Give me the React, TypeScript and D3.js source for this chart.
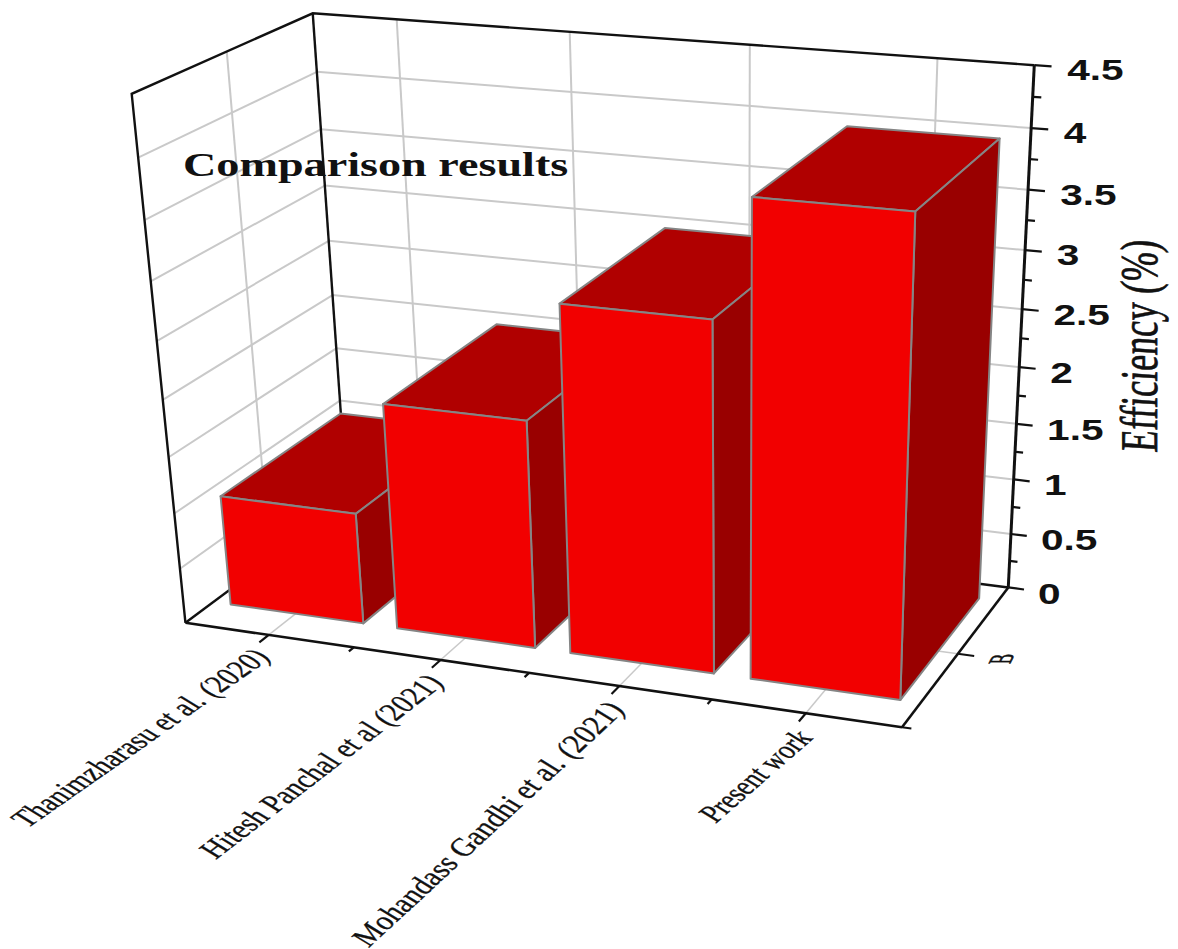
import React from "react";
import * as d3 from "d3";

// Efficiency comparison drawn as a 3D bar chart
const categories = [
  "Thanimzharasu et al. (2020)",
  "Hitesh Panchal et al (2021)",
  "Mohandass Gandhi et al. (2021)",
  "Present work",
];
const efficiency = [1.0, 2.0, 3.0, 3.98];
const yMajorTicks = [0, 0.5, 1, 1.5, 2, 2.5, 3, 3.5, 4, 4.5];
const yMinorTicks = [0.25, 0.75, 1.25, 1.75, 2.25, 2.75, 3.25, 3.75, 4.25];
const yTickLabels = ["0", "0.5", "1", "1.5", "2", "2.5", "3", "3.5", "4", "4.5"];
const chartTitle = "Comparison results";
const yTitle = "Efficiency (%)";
const depthLabel = "B";

// Camera calibration: unit-cube coordinates (x, y, z) and where they land on the page
const cameraAnchors: [number, number, number, number, number][] = [
  [0, 0, 0, 184, 622],
  [1, 0, 0, 904, 726],
  [1, 0, 1, 1008, 588],
  [0, 0, 1, 349, 502],
  [0, 1, 0, 133, 95],
  [0, 1, 1, 311, 12],
  [1, 1, 1, 1035, 65],
  [0.125, 0, 0, 268, 636],
  [0.875, 0, 0, 805, 713],
  [0.125, 1, 1, 397, 20],
  [0.875, 1, 1, 937, 58],
  [1, 0.5556, 1, 1022, 309],
  [1, 0.1111, 1, 1010, 535],
  [0, 0.4444, 1, 333, 295],
];

// Least-squares fit of the 3x4 projective camera through the normal equations
function fitCamera(anchors: typeof cameraAnchors) {
  const n = 11;
  const ata = Array.from({ length: n }, () => new Array(n + 1).fill(0));
  const add = (row: number[], rhs: number) => {
    for (let i = 0; i < n; i++) {
      for (let j = 0; j < n; j++) ata[i][j] += row[i] * row[j];
      ata[i][n] += row[i] * rhs;
    }
  };
  for (const [x, y, z, u, v] of anchors) {
    add([x, y, z, 1, 0, 0, 0, 0, -u * x, -u * y, -u * z], u);
    add([0, 0, 0, 0, x, y, z, 1, -v * x, -v * y, -v * z], v);
  }
  for (let c = 0; c < n; c++) {
    let p = c;
    for (let r = c + 1; r < n; r++) if (Math.abs(ata[r][c]) > Math.abs(ata[p][c])) p = r;
    [ata[c], ata[p]] = [ata[p], ata[c]];
    for (let r = 0; r < n; r++) {
      if (r === c) continue;
      const f = ata[r][c] / ata[c][c];
      for (let k = c; k <= n; k++) ata[r][k] -= f * ata[c][k];
    }
  }
  return ata.map((row, i) => row[n] / row[i]);
}

const cam = fitCamera(cameraAnchors);
const project = (x: number, y: number, z: number): [number, number] => {
  const w = cam[8] * x + cam[9] * y + cam[10] * z + 1;
  return [
    (cam[0] * x + cam[1] * y + cam[2] * z + cam[3]) / w,
    (cam[4] * x + cam[5] * y + cam[6] * z + cam[7]) / w,
  ];
};

const xBand = d3.scaleBand<string>().domain(categories).range([-0.006, 1.006]).paddingInner(0.2).paddingOuter(0.13);
const xTick = d3.scalePoint<string>().domain(categories).range([0, 1]).padding(0.5);
const yScale = d3.scaleLinear().domain([0, 4.5]).range([0, 1]);
const zFront = 0.16;
const zBack = 0.895;

// Slant of the category labels changes along the axis
const labelKnots = [0.125, 0.375, 0.625, 0.875];
const labelRun = d3.scaleLinear().domain(labelKnots).range([1.03, 1.0, 0.95, 0.89]);
const labelRise = d3.scaleLinear().domain(labelKnots).range([-0.72, -0.77, -0.88, -0.775]);

const path = (pts: [number, number][], close = false) =>
  d3.line()(pts)! + (close ? "Z" : "");
const seg = (a: [number, number, number], b: [number, number, number]) =>
  path([project(...a), project(...b)]);

const GRID = "#c9c9c9";
const AXIS = "#111";
const EDGE = "#858585";
const FRONT = "#f20000";
const TOP = "#b00000";
const SIDE = "#990000";

const sx = 1.4;

export default function App() {
  const xMajor = categories.map((c) => xTick(c)!);
  const xMinor = d3.range(1, xMajor.length).map((i) => (xMajor[i - 1] + xMajor[i]) / 2);
  return (
    <svg
      width={1178}
      height={949}
      style={{ position: "absolute", left: 0, top: 0, background: "#fff" }}
    >
      {/* wall and floor grid */}
      <g stroke={GRID} strokeWidth={2} fill="none">
        {xMajor.map((x) => (
          <path key={x} d={seg([x, 0, 1], [x, 1, 1])} />
        ))}
        {yMajorTicks.slice(1, -1).map((v) => {
          const t = yScale(v);
          return (
            <g key={v}>
              <path d={seg([0, t, 1], [1, t, 1])} />
              <path d={seg([0, t, 0], [0, t, 1])} />
            </g>
          );
        })}
        <path d={seg([0, 0, 0.5], [0, 1, 0.5])} />
      </g>
      <g stroke={GRID} strokeWidth={1.5} fill="none">
        {xMajor.map((x) => (
          <path key={x} d={seg([x, 0, 0], [x, 0, 1])} />
        ))}
        <path d={seg([0, 0, 0.5], [1, 0, 0.5])} />
      </g>

      {/* frame */}
      <g stroke={AXIS} strokeWidth={2.4} fill="none">
        <path d={path([project(0, 0, 0), project(0, 1, 0), project(0, 1, 1), project(1, 1, 1)])} />
        <path d={seg([0, 0, 1], [0, 1, 1])} />
        <path d={seg([0, 0, 0], [0, 0, 1])} />
        <path d={seg([0, 0, 1], [1, 0, 1])} />
      </g>

      {/* front and depth axes */}
      <g stroke={AXIS} strokeWidth={2.6} fill="none">
        <path d={seg([0, 0, 0], [1, 0, 0])} />
        <path d={seg([1, 0, 0], [1, 0, 1])} />
        <path d={seg([1, 1, 1], [1, 0, 1])} strokeWidth={3} />
        {xMajor.map((x) => (
          <path key={x} d={seg([x, 0, 0], [x, 0, -0.055])} strokeWidth={2.2} />
        ))}
        {xMinor.map((x) => (
          <path key={x} d={seg([x, 0, 0], [x, 0, -0.03])} strokeWidth={2.2} />
        ))}
        <path d={seg([1, 0, 0.5], [1.022, 0, 0.5])} strokeWidth={2} />
        <path d={seg([1, 0, 0], [1.012, 0, 0])} strokeWidth={2} />
        {yMajorTicks.map((v) => (
          <path key={v} d={seg([1, yScale(v), 1], [1.022, yScale(v), 1])} strokeWidth={2.2} />
        ))}
        {yMinorTicks.map((v) => (
          <path key={v} d={seg([1, yScale(v), 1], [1.011, yScale(v), 1])} strokeWidth={2.2} />
        ))}
      </g>

      {/* bars, left to right so that nearer faces overlap */}
      {categories.map((c, i) => {
        const x0 = xBand(c)!;
        const x1 = x0 + xBand.bandwidth();
        const t = yScale(efficiency[i]);
        const front = [project(x0, 0, zFront), project(x1, 0, zFront), project(x1, t, zFront), project(x0, t, zFront)];
        const side = [project(x1, 0, zFront), project(x1, 0, zBack), project(x1, t, zBack), project(x1, t, zFront)];
        const top = [project(x0, t, zFront), project(x1, t, zFront), project(x1, t, zBack), project(x0, t, zBack)];
        return (
          <g key={c} stroke={EDGE} strokeWidth={2} strokeLinejoin="round">
            <path d={path(top, true)} fill={TOP} />
            <path d={path(side, true)} fill={SIDE} />
            <path d={path(front, true)} fill={FRONT} />
          </g>
        );
      })}

      {/* value axis labels */}
      <g fontFamily="'Liberation Sans', Arial, sans-serif" fontWeight={700} fontSize={29} fill="#111">
        {yMajorTicks.map((v, i) => {
          const [px, py] = project(1.047, yScale(v), 1);
          return (
            <text key={v} transform={`translate(${px - 4},${py + 12}) scale(${sx},1)`}>
              {yTickLabels[i]}
            </text>
          );
        })}
      </g>

      {/* category labels, slanted */}
      <g
        fontFamily="'Liberation Serif', 'Times New Roman', serif"
        fontSize={21}
        fill="#111"
        stroke="#111"
        strokeWidth={0.25}
      >
        {categories.map((c) => {
          const tick = xTick(c)!;
          const [px, py] = project(tick, 0, -0.12);
          return (
            <text
              key={c}
              textAnchor="end"
              transform={`matrix(${labelRun(tick)},${labelRise(tick)},1.3,0.8,${px + 23},${py + 7})`}
            >
              {c}
            </text>
          );
        })}
      </g>

      <text
        transform="translate(183,176) scale(1.4,1)"
        fontFamily="'Liberation Serif', 'Times New Roman', serif"
        fontWeight={700}
        fontSize={33}
        fill="#111"
      >
        {chartTitle}
      </text>

      <text
        transform="matrix(0,-1,1.47,0.1,1157,453)"
        fontFamily="'Liberation Serif', 'Times New Roman', serif"
        fontSize={36}
        fill="#111"
        stroke="#111"
        strokeWidth={0.5}
      >
        {yTitle}
      </text>

      <text
        transform="matrix(0.5,-1,2.2,0,1010,664)"
        fontFamily="'Liberation Serif', 'Times New Roman', serif"
        fontSize={15}
        fill="#111"
        stroke="#111"
        strokeWidth={0.3}
      >
        {depthLabel}
      </text>
    </svg>
  );
}
